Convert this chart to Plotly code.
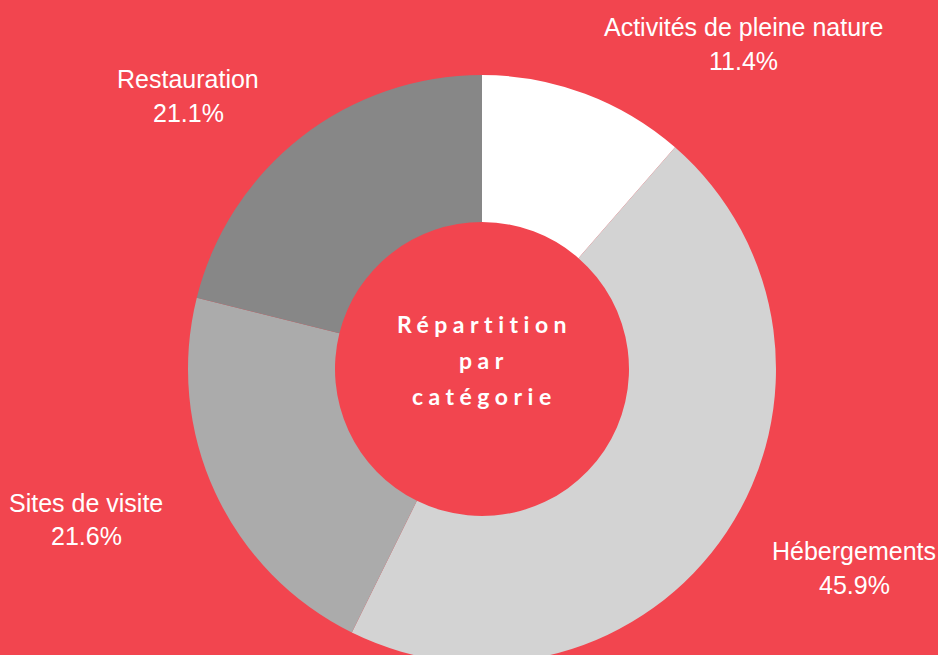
import plotly.graph_objects as go

categories = ["Activités de pleine nature", "Hébergements", "Sites de visite", "Restauration"]
values = [11.4, 45.9, 21.6, 21.1]
colors = ["#FFFFFF", "#D3D3D3", "#ABABAB", "#878787"]
center_lines = ["Répartition", "par", "catégorie"]

BG = "#F2454F"
W, H = 938, 680

def py(px):
    return (H - px) / H

def pxx(px):
    return px / W

# pie geometry in pixels (top-left origin)
cx, cy, r = 482, 369, 294

fig = go.Figure(go.Pie(
    labels=categories,
    values=values,
    marker=dict(colors=colors, line=dict(width=0)),
    hole=0.5,
    sort=False,
    direction="clockwise",
    rotation=0,
    textinfo="none",
    hoverinfo="label+percent",
    showlegend=False,
    domain=dict(x=[pxx(cx - r), pxx(cx + r)], y=[py(cy + r), py(cy - r)]),
))

# outside label positions (name-line center, percent-line center) in pixels
label_pos = [(743, 27, 61), (854, 551, 585), (86, 503, 536), (188, 79, 113)]

annotations = []
for name, val, (x, y1, y2) in zip(categories, values, label_pos):
    annotations.append(dict(text=name, x=pxx(x), y=py(y1), xref="paper", yref="paper",
                            showarrow=False, xanchor="center", yanchor="middle",
                            font=dict(family="Liberation Sans, Arial", size=25, color="white")))
    annotations.append(dict(text=f"{val:.1f}%", x=pxx(x), y=py(y2), xref="paper", yref="paper",
                            showarrow=False, xanchor="center", yanchor="middle",
                            font=dict(family="Liberation Sans, Arial", size=25, color="white")))

for line, yc in zip(center_lines, [324, 360, 396]):
    annotations.append(dict(text=f"<span style='letter-spacing:5.5px'><b>{line}</b></span>",
                            x=pxx(cx + 2.5), y=py(yc), xref="paper", yref="paper",
                            showarrow=False, xanchor="center", yanchor="middle",
                            font=dict(family="Lato", size=23, color="white")))

fig.update_layout(
    width=W, height=H,
    margin=dict(l=0, r=0, t=0, b=0),
    paper_bgcolor=BG, plot_bgcolor=BG,
    annotations=annotations,
)

fig.write_html("out.html", config={"displayModeBar": False},
               post_script="document.body.style.margin='0';document.body.style.overflow='hidden';document.body.style.background='" + BG + "';")
